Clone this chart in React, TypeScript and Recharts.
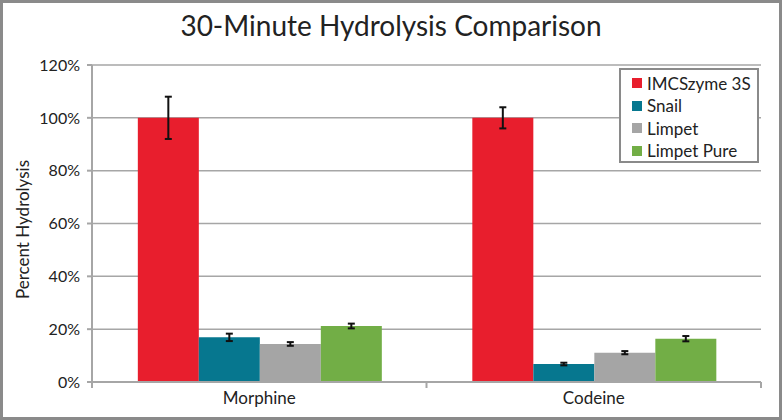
import * as React from "react";
import { Bar, BarChart, CartesianGrid, ErrorBar, XAxis, YAxis } from "recharts";

const categories = ["Morphine", "Codeine"];
const seriesNames = ["IMCSzyme 3S", "Snail", "Limpet", "Limpet Pure"];
const seriesColors = ["#E81E2D", "#06778F", "#A5A5A5", "#72AE46"];
const imcszyme = [100, 100];
const imcszymeErr = [8, 4];
const snail = [16.9, 6.8];
const snailErr = [1.4, 0.5];
const limpet = [14.4, 11.1];
const limpetErr = [0.7, 0.6];
const limpetPure = [21.2, 16.4];
const limpetPureErr = [0.9, 1.0];
const yTicks = [0, 20, 40, 60, 80, 100, 120];

const FONT = "Lato, 'Noto Sans', sans-serif";
const GRID = "#A6A6A6";

const data = categories.map((name, i) => ({
    name,
    s0: imcszyme[i], e0: imcszymeErr[i],
    s1: snail[i], e1: snailErr[i],
    s2: limpet[i], e2: limpetErr[i],
    s3: limpetPure[i], e3: limpetPureErr[i],
}));

const CategoryTick = (props: any) => {
    const { x, y, payload, index, visibleTicksCount } = props;
    const half = payload && payload.offset ? payload.offset : 167;
    const last = index === (visibleTicksCount || categories.length) - 1;
    return (
        <g>
            <line x1={x - half} x2={x - half} y1={y} y2={y + 6} stroke={GRID} strokeWidth={2} />
            {last && <line x1={x + half} x2={x + half} y1={y} y2={y + 6} stroke={GRID} strokeWidth={2} />}
            <text x={x} y={y + 22} textAnchor="middle" fontSize={17} fill="#222" fontFamily={FONT}>
                {payload.value}
            </text>
        </g>
    );
};

const YLabel = (props: any) => {
    const vb = props.viewBox || { x: 10, y: 65, width: 82, height: 317 };
    const cx = 22;
    const cy = vb.y + vb.height / 2 + 6;
    return (
        <text x={cx} y={cy} transform={`rotate(-90 ${cx} ${cy})`} textAnchor="middle"
            dominantBaseline="central" fontSize={17} fill="#222" fontFamily={FONT}>
            Percent Hydrolysis
        </text>
    );
};

const LegendBox = () => (
    <div style={{
        position: "absolute", top: 68, left: 619, width: 140, height: 95, boxSizing: "border-box",
        border: "2px solid #8a8a8a", background: "#fff", padding: "2px 0 0 11px",
        fontFamily: FONT, fontSize: 17, color: "#222",
    }}>
        {seriesNames.map((n, i) => (
            <div key={n} style={{ display: "flex", alignItems: "center", height: 22.5 }}>
                <span style={{ width: 10, height: 10, background: seriesColors[i], marginRight: 5 }} />
                {n}
            </div>
        ))}
    </div>
);

export default function App() {
    return (
        <div style={{ position: "relative", width: 782, height: 420, background: "#fff" }}>
            <style>{`body{margin:0}`}</style>
            <BarChart
                width={782}
                height={420}
                data={data}
                margin={{ top: 65, right: 21, bottom: 8, left: 10 }}
                barGap={0}
                barCategoryGap="13.7%"
            >
                <CartesianGrid vertical={false} stroke={GRID} strokeWidth={1.5} />
                <XAxis
                    dataKey="name"
                    height={30}
                    stroke={GRID}
                    strokeWidth={2}
                    tickLine={false}
                    tickSize={0}
                    tickMargin={0}
                    tick={<CategoryTick />}
                />
                <YAxis
                    width={82}
                    domain={[0, 120]}
                    ticks={yTicks}
                    tickFormatter={(v: number) => `${v}%`}
                    stroke={GRID}
                    strokeWidth={2}
                    tickSize={5}
                    tickMargin={7}
                    tick={{ fill: "#222", fontSize: 16, fontFamily: FONT }}
                    label={<YLabel />}
                />
                {seriesNames.map((n, i) => (
                    <Bar key={n} dataKey={`s${i}`} name={n} fill={seriesColors[i]} isAnimationActive={false}>
                        <ErrorBar dataKey={`e${i}`} width={3.5} stroke="#111" strokeWidth={2} isAnimationActive={false} />
                    </Bar>
                ))}
            </BarChart>
            <LegendBox />
            <div style={{
                position: "absolute", top: 8, left: 0, width: 782, textAlign: "center",
                fontFamily: FONT, fontSize: 28, color: "#222",
            }}>
                30-Minute Hydrolysis Comparison
            </div>
            <div style={{
                position: "absolute", inset: 0, border: "3px solid #8a8a8a", pointerEvents: "none",
            }} />
        </div>
    );
}
